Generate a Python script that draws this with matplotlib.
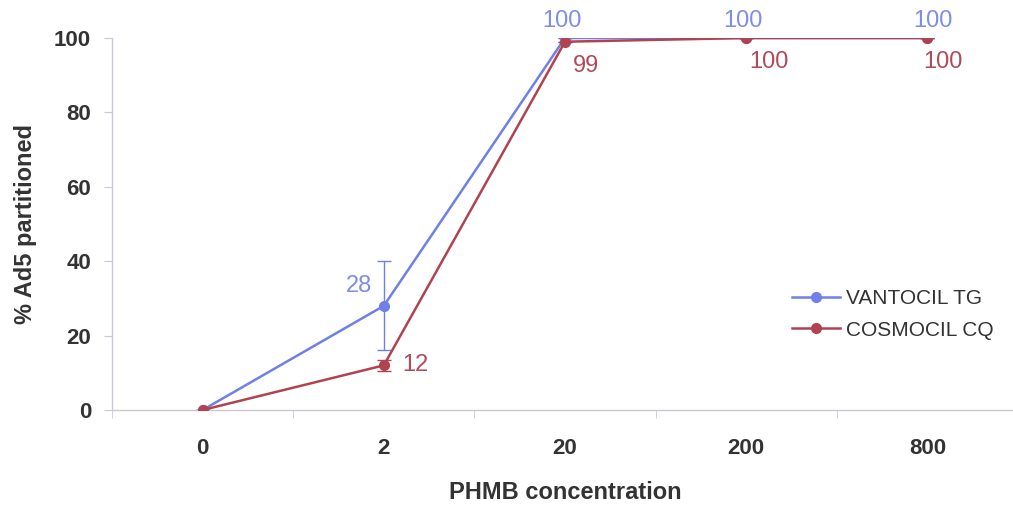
import matplotlib
matplotlib.use('Agg')
import matplotlib.pyplot as plt
from matplotlib.ticker import FixedLocator

plt.rcParams['font.family'] = ['Liberation Sans', 'DejaVu Sans']

categories = ['0', '2', '20', '200', '800']
vantocil = [0, 28, 100, 100, 100]
vantocil_err = [0, 12, 0, 0, 0]
cosmocil = [0, 12, 99, 100, 100]
cosmocil_err = [0, 1.5, 0, 0, 0]
vantocil_labels = ['', '28', '100', '100', '100']
cosmocil_labels = ['', '12', '99', '100', '100']

blue = '#6f80e6'
red = '#b0434f'
blue_txt = '#7d8ee6'
red_txt = '#b24a5a'
axis_col = '#c8c8d8'
text_col = '#333333'

fig = plt.figure(figsize=(10.13, 5.08), dpi=100)
ax = fig.add_axes([112 / 1013, 1 - 410 / 508, 906 / 1013, 372 / 508])

x = list(range(len(categories)))
ax.errorbar(x, vantocil, yerr=vantocil_err, fmt='none', ecolor=blue,
            elinewidth=1, capsize=5, zorder=2)
ax.errorbar(x, cosmocil, yerr=cosmocil_err, fmt='none', ecolor=red,
            elinewidth=1, capsize=5, zorder=2)
ax.plot(x, vantocil, color=blue, lw=1.8, marker='o', ms=7,
        label='VANTOCIL TG', zorder=3)
ax.plot(x, cosmocil, color=red, lw=1.8, marker='o', ms=7,
        label='COSMOCIL CQ', zorder=4)

# data labels
blue_off = [(0, 0), (-25, 20), (-3, 17), (-3, 17), (6, 17)]
red_off = [(0, 0), (18, 0), (21, -24), (23, -24), (16, -24)]
for i in x:
    if vantocil_labels[i]:
        ax.annotate(vantocil_labels[i], (i, vantocil[i]), xytext=blue_off[i],
                    textcoords='offset pixels', ha='center', va='center',
                    fontsize=17, color=blue_txt)
    if cosmocil_labels[i]:
        ha = 'left' if i == 1 else 'center'
        ax.annotate(cosmocil_labels[i], (i, cosmocil[i]), xytext=red_off[i],
                    textcoords='offset pixels', ha=ha, va='center',
                    fontsize=17, color=red_txt)

ax.set_xlim(-0.5, len(categories) - 0.5)
ax.set_ylim(0, 100)
ax.set_xticks(x)
ax.set_xticklabels(categories, fontsize=16, fontweight='bold', color=text_col)
ax.xaxis.set_minor_locator(FixedLocator([i - 0.5 for i in range(len(categories) + 1)]))
ax.tick_params(axis='x', which='major', length=0, pad=20)
ax.tick_params(axis='x', which='minor', length=6, color=axis_col, direction='out')
ax.set_yticks(range(0, 101, 20))
ax.tick_params(axis='y', labelsize=16, labelcolor=text_col, length=6,
               color=axis_col, pad=9)
for lbl in ax.get_yticklabels():
    lbl.set_fontweight('bold')

for s in ['top', 'right']:
    ax.spines[s].set_visible(False)
for s in ['left', 'bottom']:
    ax.spines[s].set_color(axis_col)
    ax.spines[s].set_linewidth(1)

ax.set_xlabel('PHMB concentration', fontsize=17, fontweight='bold',
              color=text_col, labelpad=16)
ax.set_ylabel('% Ad5 partitioned', fontsize=17, fontweight='bold',
              color=text_col, labelpad=12)

leg = ax.legend(loc='upper left', bbox_to_anchor=(0.73, 0.375), frameon=False,
                fontsize=15, handlelength=2.3, labelspacing=0.6, handletextpad=0.3)
for t in leg.get_texts():
    t.set_color(text_col)

fig.savefig('out.png', dpi=100)
